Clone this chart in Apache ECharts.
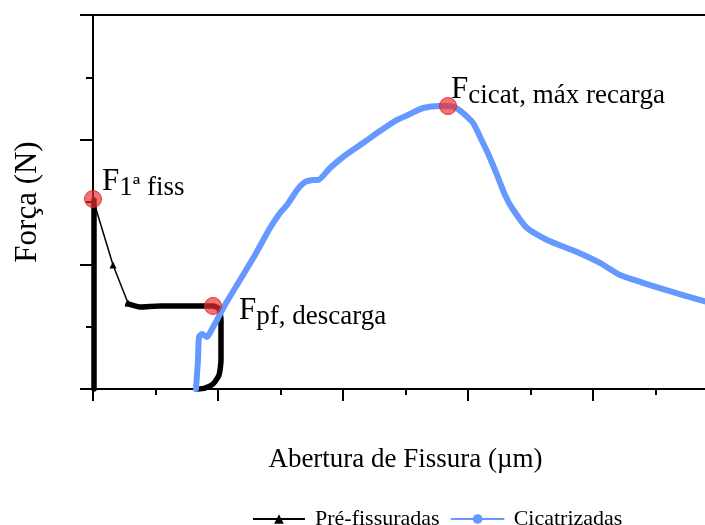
<!DOCTYPE html>
<html><head><meta charset="utf-8">
<script src="https://cdn.jsdelivr.net/npm/echarts@6/dist/echarts.min.js"></script>
<style>html,body{margin:0;padding:0;background:#fff}#c{width:705px;height:525px}</style>
</head><body><div id="c"></div>
<script>
// Pré-fissuradas: thin descending part (with triangle markers)
const preThinX = [0, 0.16, 0.28, 0.336];
const preThinY = [1.524, 0.995, 0.69, 0.666];
const preThinMarkers = [1, 2];
// Pré-fissuradas: dense (thick) parts
const preLoadX = [0.008, 0.008];
const preLoadY = [0, 1.516];
const preUnloadX = [0.28, 0.376, 0.536, 0.776, 0.96, 1.008, 1.024, 1.024, 1.008, 0.96, 0.896, 0.832];
const preUnloadY = [0.682, 0.658, 0.666, 0.666, 0.666, 0.642, 0.553, 0.233, 0.112, 0.040, 0.008, 0];
// Cicatrizadas
const cicX = [0.824, 0.84, 0.848, 0.872, 0.912, 0.952, 1.056, 1.176, 1.296, 1.416, 1.496, 1.552, 1.632, 1.696, 1.76, 1.8, 1.896, 2.0, 2.16, 2.296, 2.432, 2.536, 2.64, 2.776, 2.84, 2.904, 2.96, 3.04, 3.12, 3.176, 3.232, 3.296, 3.352, 3.472, 3.632, 3.872, 4.056, 4.216, 4.456, 4.72, 5.0];
const cicY = [0, 0.233, 0.417, 0.441, 0.417, 0.481, 0.674, 0.874, 1.075, 1.291, 1.412, 1.476, 1.596, 1.660, 1.676, 1.676, 1.773, 1.861, 1.973, 2.069, 2.158, 2.206, 2.254, 2.270, 2.270, 2.254, 2.214, 2.134, 1.973, 1.853, 1.717, 1.556, 1.452, 1.291, 1.195, 1.099, 1.011, 0.914, 0.834, 0.754, 0.674];
// Highlighted points
const markX = [0, 0.96, 2.84];
const markY = [1.524, 0.666, 2.27];
const markSub = ['1ª fiss', 'pf, descarga', 'cicat, máx recarga'];
const seriesNames = ['Pré-fissuradas', 'Cicatrizadas'];
const xTitle = 'Abertura de Fissura (µm)';
const yTitle = 'Força (N)';

const serif = "'Liberation Serif','Times New Roman',serif";
const labelPos = [[18, -24], [35, -2], [12, -23]];
const zip = (xs, ys) => xs.map((x, i) => [x, ys[i]]);

const chart = echarts.init(document.getElementById('c'), null, {renderer: 'canvas'});
const axisLineStyle = {color: '#000', width: 2};
chart.setOption({
  animation: false,
  backgroundColor: '#fff',
  textStyle: {fontFamily: serif, color: '#000'},
  grid: {left: 93, top: 15, width: 625, height: 374, containLabel: false, outerBoundsMode: 'none'},
  legend: {
    data: seriesNames,
    left: 247, top: 503,
    itemWidth: 52, itemHeight: 12, itemGap: 11,
    textStyle: {fontSize: 22, fontFamily: serif, color: '#000', padding: [0, 0, 0, 5]},
    lineStyle: {width: 2}
  },
  xAxis: [{
    type: 'value', min: 0, max: 5, interval: 1,
    name: xTitle, nameLocation: 'middle', nameGap: 57,
    nameTextStyle: {fontSize: 27, fontFamily: serif, color: '#000'},
    axisLine: {show: true, onZero: false, lineStyle: axisLineStyle},
    axisTick: {show: true, inside: false, length: 12, lineStyle: axisLineStyle},
    minorTick: {show: true, splitNumber: 2, length: 6, lineStyle: axisLineStyle},
    axisLabel: {show: false}, splitLine: {show: false}
  }, {
    type: 'value', position: 'top', min: 0, max: 5,
    axisLine: {show: true, onZero: false, lineStyle: axisLineStyle},
    axisTick: {show: false}, axisLabel: {show: false}, splitLine: {show: false}
  }],
  yAxis: {
    type: 'value', min: 0, max: 3, interval: 1,
    name: yTitle, nameLocation: 'middle', nameGap: 50,
    nameTextStyle: {fontSize: 31, fontFamily: serif, color: '#000'},
    axisLine: {show: true, onZero: false, lineStyle: axisLineStyle},
    axisTick: {show: true, inside: false, length: 13, lineStyle: axisLineStyle},
    minorTick: {show: true, splitNumber: 2, length: 7, lineStyle: axisLineStyle},
    axisLabel: {show: false}, splitLine: {show: false}
  },
  series: [
    {
      name: seriesNames[0], type: 'line', symbol: 'triangle', symbolSize: 7,
      data: preThinX.map((x, i) => ({value: [x, preThinY[i]], symbol: preThinMarkers.includes(i) ? 'triangle' : 'none'})),
      itemStyle: {color: '#000'}, lineStyle: {color: '#000', width: 1.5},
      clip: false
    },
    {
      name: seriesNames[0], type: 'line', showSymbol: false, symbol: 'none',
      data: zip(preLoadX, preLoadY).concat([['-', '-']], zip(preUnloadX, preUnloadY)),
      connectNulls: false,
      itemStyle: {color: '#000'}, lineStyle: {color: '#000', width: 5.5, join: 'round', cap: 'round'},
      smooth: 0.2, clip: false
    },
    {
      name: seriesNames[1], type: 'line', symbol: 'circle', showSymbol: false,
      data: zip(cicX, cicY),
      itemStyle: {color: '#6699FF'}, lineStyle: {color: '#6699FF', width: 6, join: 'round', cap: 'round'},
      smooth: 0.2
    },
    {
      name: 'pontos', type: 'scatter', symbol: 'circle', symbolSize: 17,
      itemStyle: {color: 'rgba(240,45,45,0.68)', borderColor: 'rgba(215,35,35,0.85)', borderWidth: 1, opacity: 1},
      data: markX.map((x, i) => ({value: [x, markY[i]], label: {position: labelPos[i]}})),
      label: {
        show: true, align: 'left', verticalAlign: 'top', color: 'rgb(0,0,0)', opacity: 1,
        textBorderWidth: 0, textShadowBlur: 0,
        formatter: p => '{F|F}{s|' + markSub[p.dataIndex] + '}',
        rich: {
          F: {fontSize: 31, lineHeight: 35, verticalAlign: 'top', fontFamily: serif, color: 'rgb(0,0,0)', opacity: 1},
          s: {fontSize: 27, lineHeight: 27, verticalAlign: 'bottom', fontFamily: serif, color: 'rgb(0,0,0)', opacity: 1}
        }
      },
      z: 5
    }
  ]
});
</script>
</body></html>
